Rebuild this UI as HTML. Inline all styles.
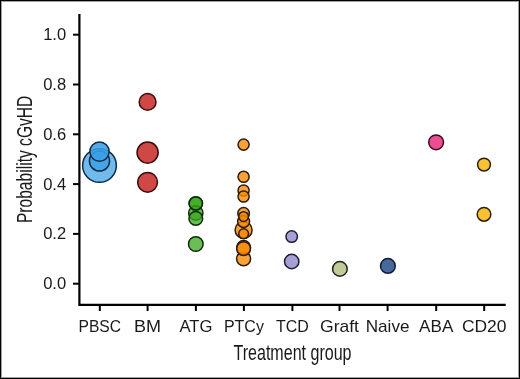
<!DOCTYPE html>
<html><head><meta charset="utf-8"><style>
html,body{margin:0;padding:0;background:#fff;width:520px;height:379px;overflow:hidden}
svg{display:block;will-change:transform}
.t{font-family:"Liberation Sans",sans-serif;font-size:17px;fill:#1a1a1a}
.at{font-family:"Liberation Sans",sans-serif;font-size:21.3px;fill:#1a1a1a}
</style></head><body>
<svg width="520" height="379" viewBox="0 0 520 379">
<rect x="0" y="0" width="520" height="379" fill="#fff"/>
<path d="M79.4 14 V304.8 H505.7" fill="none" stroke="#000" stroke-width="2.2" stroke-linecap="butt" stroke-linejoin="miter"/>
<line x1="73" y1="283.70" x2="79" y2="283.70" stroke="#000" stroke-width="2"/>
<text x="66.2" y="289.10" text-anchor="end" class="t" textLength="23.05" lengthAdjust="spacingAndGlyphs">0.0</text>
<line x1="73" y1="233.90" x2="79" y2="233.90" stroke="#000" stroke-width="2"/>
<text x="66.2" y="239.30" text-anchor="end" class="t" textLength="23.05" lengthAdjust="spacingAndGlyphs">0.2</text>
<line x1="73" y1="184.10" x2="79" y2="184.10" stroke="#000" stroke-width="2"/>
<text x="66.2" y="189.50" text-anchor="end" class="t" textLength="23.05" lengthAdjust="spacingAndGlyphs">0.4</text>
<line x1="73" y1="134.30" x2="79" y2="134.30" stroke="#000" stroke-width="2"/>
<text x="66.2" y="139.70" text-anchor="end" class="t" textLength="23.05" lengthAdjust="spacingAndGlyphs">0.6</text>
<line x1="73" y1="84.50" x2="79" y2="84.50" stroke="#000" stroke-width="2"/>
<text x="66.2" y="89.90" text-anchor="end" class="t" textLength="23.05" lengthAdjust="spacingAndGlyphs">0.8</text>
<line x1="73" y1="34.70" x2="79" y2="34.70" stroke="#000" stroke-width="2"/>
<text x="66.2" y="40.10" text-anchor="end" class="t" textLength="23.05" lengthAdjust="spacingAndGlyphs">1.0</text>
<line x1="99.8" y1="305" x2="99.8" y2="311" stroke="#000" stroke-width="2"/>
<text x="99.8" y="331.8" text-anchor="middle" class="t" textLength="42.6" lengthAdjust="spacingAndGlyphs">PBSC</text>
<line x1="147.6" y1="305" x2="147.6" y2="311" stroke="#000" stroke-width="2"/>
<text x="147.6" y="331.8" text-anchor="middle" class="t" textLength="27.0" lengthAdjust="spacingAndGlyphs">BM</text>
<line x1="195.9" y1="305" x2="195.9" y2="311" stroke="#000" stroke-width="2"/>
<text x="195.9" y="331.8" text-anchor="middle" class="t" textLength="33.0" lengthAdjust="spacingAndGlyphs">ATG</text>
<line x1="243.9" y1="305" x2="243.9" y2="311" stroke="#000" stroke-width="2"/>
<text x="243.9" y="331.8" text-anchor="middle" class="t" textLength="40.0" lengthAdjust="spacingAndGlyphs">PTCy</text>
<line x1="292.4" y1="305" x2="292.4" y2="311" stroke="#000" stroke-width="2"/>
<text x="292.4" y="331.8" text-anchor="middle" class="t" textLength="32.8" lengthAdjust="spacingAndGlyphs">TCD</text>
<line x1="339.5" y1="305" x2="339.5" y2="311" stroke="#000" stroke-width="2"/>
<text x="339.5" y="331.8" text-anchor="middle" class="t" textLength="39.0" lengthAdjust="spacingAndGlyphs">Graft</text>
<line x1="387.6" y1="305" x2="387.6" y2="311" stroke="#000" stroke-width="2"/>
<text x="387.6" y="331.8" text-anchor="middle" class="t" textLength="43.8" lengthAdjust="spacingAndGlyphs">Naive</text>
<line x1="436.2" y1="305" x2="436.2" y2="311" stroke="#000" stroke-width="2"/>
<text x="436.2" y="331.8" text-anchor="middle" class="t" textLength="34.2" lengthAdjust="spacingAndGlyphs">ABA</text>
<line x1="484.2" y1="305" x2="484.2" y2="311" stroke="#000" stroke-width="2"/>
<text x="484.2" y="331.8" text-anchor="middle" class="t" textLength="44.6" lengthAdjust="spacingAndGlyphs">CD20</text>
<text x="292.5" y="359.6" text-anchor="middle" class="at" textLength="118" lengthAdjust="spacingAndGlyphs">Treatment group</text>
<text transform="translate(31.8,159.35) rotate(-90)" x="0" y="0" text-anchor="middle" class="at" textLength="127.5" lengthAdjust="spacingAndGlyphs">Probability cGvHD</text>
<circle cx="99.5" cy="165.5" r="16.85" fill="#339ce4" fill-opacity="0.7" stroke="#0f2a44" stroke-width="1.5"/>
<circle cx="99.5" cy="161.0" r="10.05" fill="#339ce4" fill-opacity="0.7" stroke="#0f2a44" stroke-width="1.5"/>
<circle cx="99.5" cy="151.6" r="9.65" fill="#39a0e6" fill-opacity="0.88" stroke="#0f2a44" stroke-width="1.5"/>
<circle cx="147.6" cy="101.9" r="8.40" fill="#c41a18" fill-opacity="0.8" stroke="#3a0c0c" stroke-width="1.5"/>
<circle cx="147.6" cy="152.6" r="10.55" fill="#c41a18" fill-opacity="0.8" stroke="#3a0c0c" stroke-width="1.5"/>
<circle cx="147.6" cy="182.3" r="9.85" fill="#c41a18" fill-opacity="0.8" stroke="#3a0c0c" stroke-width="1.5"/>
<circle cx="195.8" cy="203.6" r="6.65" fill="#3aa81e" fill-opacity="0.75" stroke="#0c2a08" stroke-width="1.5"/>
<circle cx="195.8" cy="213.0" r="7.15" fill="#3aa81e" fill-opacity="0.75" stroke="#0c2a08" stroke-width="1.5"/>
<circle cx="195.8" cy="203.4" r="6.65" fill="#3aa81e" fill-opacity="0.75" stroke="#0c2a08" stroke-width="1.5"/>
<circle cx="195.8" cy="218.4" r="6.85" fill="#3aa81e" fill-opacity="0.75" stroke="#0c2a08" stroke-width="1.5"/>
<circle cx="195.8" cy="244.0" r="7.30" fill="#3aa81e" fill-opacity="0.75" stroke="#0c2a08" stroke-width="1.5"/>
<circle cx="243.6" cy="144.6" r="5.55" fill="#f88b05" fill-opacity="0.8" stroke="#2e1c08" stroke-width="1.5"/>
<circle cx="243.6" cy="176.8" r="5.55" fill="#f88b05" fill-opacity="0.8" stroke="#2e1c08" stroke-width="1.5"/>
<circle cx="243.6" cy="190.5" r="5.55" fill="#f88b05" fill-opacity="0.8" stroke="#2e1c08" stroke-width="1.5"/>
<circle cx="243.6" cy="196.5" r="5.55" fill="#f88b05" fill-opacity="0.8" stroke="#2e1c08" stroke-width="1.5"/>
<circle cx="243.6" cy="230.0" r="8.50" fill="#f88b05" fill-opacity="0.8" stroke="#2e1c08" stroke-width="1.5"/>
<circle cx="243.6" cy="213.4" r="5.80" fill="#f88b05" fill-opacity="0.8" stroke="#2e1c08" stroke-width="1.5"/>
<circle cx="243.6" cy="221.4" r="6.00" fill="#f88b05" fill-opacity="0.8" stroke="#2e1c08" stroke-width="1.5"/>
<circle cx="243.6" cy="216.6" r="4.90" fill="#f88b05" fill-opacity="0.8" stroke="#2e1c08" stroke-width="1.5"/>
<circle cx="243.6" cy="233.7" r="4.90" fill="#f88b05" fill-opacity="0.8" stroke="#2e1c08" stroke-width="1.5"/>
<circle cx="243.6" cy="258.8" r="7.00" fill="#f88b05" fill-opacity="0.8" stroke="#2e1c08" stroke-width="1.5"/>
<circle cx="243.6" cy="247.3" r="6.90" fill="#f88b05" fill-opacity="0.8" stroke="#2e1c08" stroke-width="1.5"/>
<circle cx="243.6" cy="248.7" r="6.90" fill="#f88b05" fill-opacity="0.8" stroke="#2e1c08" stroke-width="1.5"/>
<circle cx="291.7" cy="236.6" r="5.75" fill="#9088c9" fill-opacity="0.8" stroke="#1c1c36" stroke-width="1.5"/>
<circle cx="291.7" cy="261.5" r="7.20" fill="#9088c9" fill-opacity="0.8" stroke="#1c1c36" stroke-width="1.5"/>
<circle cx="339.9" cy="268.9" r="7.30" fill="#afbf80" fill-opacity="0.8" stroke="#1e2218" stroke-width="1.5"/>
<circle cx="387.9" cy="265.9" r="7.35" fill="#1c4286" fill-opacity="0.8" stroke="#121a34" stroke-width="1.5"/>
<circle cx="436.1" cy="142.3" r="7.40" fill="#e82276" fill-opacity="0.8" stroke="#3a0a20" stroke-width="1.5"/>
<circle cx="484.0" cy="164.6" r="6.40" fill="#f9b300" fill-opacity="0.8" stroke="#2a2010" stroke-width="1.5"/>
<circle cx="484.0" cy="214.3" r="6.85" fill="#f9b300" fill-opacity="0.8" stroke="#2a2010" stroke-width="1.5"/>
<rect x="1.5" y="1.5" width="517" height="376" fill="none" stroke="#a0a0a0" stroke-width="1" shape-rendering="crispEdges"/>
<rect x="0.5" y="0.5" width="519" height="378" fill="none" stroke="#000" stroke-width="1" shape-rendering="crispEdges"/>
</svg>
</body></html>
